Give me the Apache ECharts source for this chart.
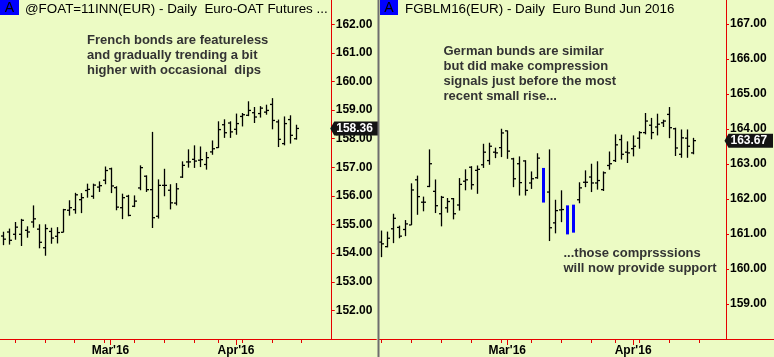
<!DOCTYPE html>
<html><head><meta charset="utf-8">
<script src="https://cdn.jsdelivr.net/npm/echarts@6/dist/echarts.min.js"></script>
<style>html,body{margin:0;padding:0;background:#ecfbc4}#c{width:774px;height:357px}</style>
</head><body><div id="c"></div><script>
// ---------- categories (trading days, incl. empty future slots on the axis) ----------
const foatDates = ["2016-02-04","2016-02-05","2016-02-08","2016-02-09","2016-02-10","2016-02-11","2016-02-12","2016-02-15","2016-02-16","2016-02-17","2016-02-18","2016-02-19","2016-02-22","2016-02-23","2016-02-24","2016-02-25","2016-02-26","2016-02-29",
"2016-03-01","2016-03-02","2016-03-03","2016-03-04","2016-03-07","2016-03-08","2016-03-09","2016-03-10","2016-03-11","2016-03-14","2016-03-15","2016-03-16","2016-03-17","2016-03-18","2016-03-21","2016-03-22","2016-03-23","2016-03-24","2016-03-29","2016-03-30","2016-03-31",
"2016-04-01","2016-04-04","2016-04-05","2016-04-06","2016-04-07","2016-04-08","2016-04-11","2016-04-12","2016-04-13","2016-04-14","2016-04-15","2016-04-18","2016-04-19","2016-04-20","2016-04-21","2016-04-22","2016-04-25","2016-04-26","2016-04-27","2016-04-28","2016-04-29",
"2016-05-02","2016-05-03","2016-05-04"];
const bundDates = ["2016-02-01","2016-02-02","2016-02-03","2016-02-04","2016-02-05","2016-02-08","2016-02-09","2016-02-10","2016-02-11","2016-02-12","2016-02-15","2016-02-16","2016-02-17","2016-02-18","2016-02-19","2016-02-22","2016-02-23","2016-02-24","2016-02-25","2016-02-26","2016-02-29",
"2016-03-01","2016-03-02","2016-03-03","2016-03-04","2016-03-07","2016-03-08","2016-03-09","2016-03-10","2016-03-11","2016-03-14","2016-03-15","2016-03-16","2016-03-17","2016-03-18","2016-03-21","2016-03-22","2016-03-23","2016-03-24","2016-03-29","2016-03-30","2016-03-31",
"2016-04-01","2016-04-04","2016-04-05","2016-04-06","2016-04-07","2016-04-08","2016-04-11","2016-04-12","2016-04-13","2016-04-14","2016-04-15","2016-04-18","2016-04-19","2016-04-20","2016-04-21","2016-04-22","2016-04-25","2016-04-26","2016-04-27","2016-04-28","2016-04-29",
"2016-05-02","2016-05-03","2016-05-04"];

// ---------- tick labels ----------
const monthLabels = {"2016-03-01":"Mar'16","2016-04-01":"Apr'16"};
const lastTickDate = "2016-04-22";

// ---------- Euro-OAT futures (daily OHLC) ----------
const foatOpen  = [154.60,154.74,154.66,154.66,154.80,155.09,154.84,154.19,154.76,154.59,154.73,155.50,155.52,155.87,156.19,155.99,156.31,156.55,156.95,156.29,155.59,155.99,155.64,156.28,156.69,156.22,155.29,156.37,156.20,155.75,156.66,157.19,157.28,157.25,157.10,157.54,157.69,158.49,158.55,158.33,158.78,158.82,158.91,158.88,158.93,159.20,158.59,157.83,158.67,158.00];
const foatHigh  = [154.75,154.86,155.09,155.20,154.94,155.67,155.01,155.01,154.89,154.91,155.55,155.85,156.11,156.10,156.43,156.43,156.51,157.03,156.99,156.34,156.08,156.04,156.02,157.07,156.72,158.24,156.58,156.95,156.41,156.45,157.21,157.63,157.77,157.73,157.54,157.94,158.61,158.68,158.61,158.88,158.90,159.31,159.11,159.14,159.19,159.42,158.67,158.78,158.82,158.49];
const foatLow   = [154.28,154.30,154.47,154.25,154.54,154.89,154.17,153.91,154.33,154.34,154.73,155.31,155.38,155.40,155.94,155.90,156.14,156.41,156.10,155.50,155.19,155.29,155.61,156.20,156.14,154.88,155.21,155.99,155.53,155.67,156.63,156.99,156.98,157.01,156.92,157.44,157.68,158.03,158.03,158.14,158.43,158.79,158.55,158.74,158.84,158.33,157.71,157.77,157.83,157.97];
const foatClose = [154.49,154.45,154.91,155.15,154.74,155.20,154.38,154.86,154.53,154.72,155.52,155.59,156.04,155.94,156.23,156.38,156.36,156.89,156.35,155.61,155.94,155.32,155.82,156.99,156.22,155.24,156.37,156.37,155.76,156.25,157.07,157.19,157.22,157.27,157.34,157.65,158.32,158.21,158.24,158.53,158.84,158.99,158.76,159.07,158.99,158.64,157.98,158.53,158.12,158.36];

// ---------- Euro Bund Jun 2016 (daily OHLC) ----------
const bundOpen  = [160.77,160.64,161.15,161.19,161.13,161.26,162.55,161.91,162.36,162.22,161.58,161.75,162.01,161.83,162.51,162.91,162.82,162.98,163.10,163.34,163.47,163.95,163.15,163.01,163.09,162.46,162.61,162.80,162.20,161.32,161.69,161.80,161.10,161.98,162.48,162.63,162.46,162.27,162.96,163.10,163.70,163.34,163.44,163.74,163.90,164.11,164.06,164.18,164.42,164.01,163.28,163.74,163.32];
const bundHigh  = [161.10,161.07,161.58,161.24,161.40,162.45,162.67,162.07,163.42,162.56,162.09,162.03,162.03,162.60,162.85,162.94,162.96,163.58,163.61,163.47,164.01,163.96,163.18,163.22,163.11,162.79,163.31,162.89,163.42,161.98,162.25,161.82,161.84,162.48,162.82,163.01,163.08,162.79,163.36,163.85,163.84,163.65,163.82,163.94,164.46,164.32,164.44,164.27,164.63,164.04,163.99,163.99,163.75];
const bundLow   = [160.34,160.62,160.74,160.88,160.94,161.26,161.55,161.65,162.34,161.60,161.22,161.61,161.42,161.67,162.25,162.27,162.15,162.89,162.98,163.17,163.20,163.15,162.34,162.10,162.10,162.29,162.58,161.90,160.80,161.02,161.34,160.99,161.04,161.88,162.34,162.20,162.27,162.23,162.84,163.06,163.13,163.03,163.22,163.44,163.85,163.71,163.82,164.06,163.74,163.23,163.18,163.18,163.28];
const bundClose = [160.72,160.88,161.45,160.94,161.29,162.26,162.07,161.91,163.01,161.81,162.05,161.93,161.58,162.42,162.55,162.41,162.85,163.34,163.51,163.32,163.89,163.37,162.58,162.47,162.25,162.58,163.17,162.00,161.18,161.67,161.70,161.10,161.75,162.32,162.48,162.46,162.53,162.75,163.01,163.55,163.28,163.32,163.51,163.90,164.23,163.90,164.14,164.23,164.04,163.46,163.75,163.51,163.67];
// bars flagged as compression signals (painted blue)
const bundCompressionDates = ["2016-03-09","2016-03-15","2016-03-16"];

// ---------- helpers ----------
const RED = '#e60000';
const FONT = '"Liberation Sans", Arial, sans-serif';
function dow(d){ return new Date(d + 'T00:00:00Z').getUTCDay(); }
function weekStartFn(dates){
  return function(idx, val){
    if (val > lastTickDate) return false;
    if (idx === 0) return dow(val) === 1;
    return dow(val) < dow(dates[idx-1]);
  };
}
function monthFn(idx, val){ return monthLabels.hasOwnProperty(val); }

function ohlcRender(blueDates, dates){
  return function(params, api){
    const i = api.value(0);
    const h = api.coord([i, api.value(2)]), l = api.coord([i, api.value(3)]);
    const o = api.coord([i, api.value(1)]), c = api.coord([i, api.value(4)]);
    const x = Math.round(h[0]) + 0.5;
    if (blueDates.indexOf(dates[i]) >= 0) {
      return {type:'line', shape:{x1:x, y1:h[1], x2:x, y2:l[1]}, style:{stroke:'#0000ff', lineWidth:3}};
    }
    return {type:'group', children:[
      {type:'line', shape:{x1:x, y1:h[1], x2:x, y2:l[1]}, style:{stroke:'#000', lineWidth:1.3}},
      {type:'line', shape:{x1:x-2.5, y1:o[1], x2:x, y2:o[1]}, style:{stroke:'#000', lineWidth:1.3}},
      {type:'line', shape:{x1:x, y1:c[1], x2:x+2.5, y2:c[1]}, style:{stroke:'#000', lineWidth:1.3}}
    ]};
  };
}
function tagRender(axisOffset){
  return function(params, api){
    const v = api.value(1);
    const y = api.coord([0, v])[1];
    const cs = params.coordSys;
    const ax = cs.x + cs.width + axisOffset;
    return {type:'group', children:[
      {type:'polygon', shape:{points:[[ax-1.5,y],[ax+2.5,y-7],[ax+47,y-7],[ax+47,y+7],[ax+2.5,y+7]]}, style:{fill:'#141414'}},
      {type:'text', style:{text:v.toFixed(2), x:ax+4.5, y:y+0.5, align:'left', verticalAlign:'middle', fill:'#fff', font:'bold 12px ' + FONT}}
    ]};
  };
}

const L = {left:-1.67, width:378, top:0, bottom:18, offset:-44.6, min:151, max:162.85};
const R = {left:378.33, width:396, top:0, bottom:18, offset:-48, min:158, max:167.69};

function grids(p){ return [
  {left:p.left, width:p.width, top:p.top, bottom:p.bottom, containLabel:false},
  {left:p.left, width:p.width, top:p.top, bottom:p.bottom, containLabel:false}
];}
function xAxes(dates, gi){ return [
  {type:'category', data:dates, gridIndex:gi, boundaryGap:true,
   axisLine:{show:true, lineStyle:{color:RED, width:1}},
   axisTick:{show:true, alignWithLabel:true, interval:weekStartFn(dates), length:4, lineStyle:{color:RED}},
   axisLabel:{show:false}, splitLine:{show:false}},
  {type:'category', data:dates, gridIndex:gi+1, boundaryGap:true,
   axisLine:{show:false},
   axisTick:{show:true, alignWithLabel:true, interval:monthFn, length:6, lineStyle:{color:RED}},
   axisLabel:{show:true, interval:monthFn, formatter:v => monthLabels[v] || '', margin:6,
     color:'#000', fontFamily:FONT, fontWeight:'bold', fontSize:12},
   splitLine:{show:false}}
];}
function yAxes(p, gi){ return [
  {type:'value', gridIndex:gi, position:'right', offset:p.offset, min:p.min, max:p.max, interval:1,
   axisLine:{show:true, lineStyle:{color:RED, width:1}},
   axisTick:{show:true, length:3, lineStyle:{color:RED}},
   axisLabel:{show:true, margin:4, showMinLabel:false, showMaxLabel:false, formatter:v => v.toFixed(2),
     color:'#000', fontFamily:FONT, fontWeight:'bold', fontSize:12},
   splitLine:{show:false}},
  {type:'value', gridIndex:gi+1, min:p.min, max:p.max, show:false}
];}

const foatData = foatOpen.map((o,i) => [i, o, foatHigh[i], foatLow[i], foatClose[i]]);
const bundData = bundOpen.map((o,i) => [i, o, bundHigh[i], bundLow[i], bundClose[i]]);

const chart = echarts.init(document.getElementById('c'), null, {renderer:'canvas'});
chart.setOption({
  backgroundColor:'#ecfbc4',
  animation:false,
  grid:[].concat(grids(L), grids(R)),
  xAxis:[].concat(xAxes(foatDates, 0), xAxes(bundDates, 2)),
  yAxis:[].concat(yAxes(L, 0), yAxes(R, 2)),
  series:[
    {type:'custom', xAxisIndex:0, yAxisIndex:0, data:foatData, encode:{x:0, y:[1,2,3,4]}, renderItem:ohlcRender([], foatDates), z:3},
    {type:'custom', xAxisIndex:2, yAxisIndex:2, data:bundData, encode:{x:0, y:[1,2,3,4]}, renderItem:ohlcRender(bundCompressionDates, bundDates), z:3},
    {type:'custom', xAxisIndex:0, yAxisIndex:0, data:[[foatClose.length-1, foatClose[foatClose.length-1]]], encode:{x:0,y:1}, renderItem:tagRender(L.offset), z:5},
    {type:'custom', xAxisIndex:2, yAxisIndex:2, data:[[bundClose.length-1, bundClose[bundClose.length-1]]], encode:{x:0,y:1}, renderItem:tagRender(R.offset), z:5}
  ],
  graphic:[
    {type:'rect', shape:{x:377.5, y:0, width:2, height:357}, style:{fill:'#6e6e6e'}, z:10},
    {type:'rect', shape:{x:0, y:0, width:19, height:15}, style:{fill:'#0000ff'}, z:10},
    {type:'text', x:9.5, y:8, style:{text:'A', align:'center', verticalAlign:'middle', fill:'#000', font:'14px ' + FONT}, z:11},
    {type:'rect', shape:{x:380, y:0, width:18, height:15}, style:{fill:'#0000ff'}, z:10},
    {type:'text', x:389, y:8, style:{text:'A', align:'center', verticalAlign:'middle', fill:'#000', font:'14px ' + FONT}, z:11},
    {type:'text', x:25, y:9, style:{text:'@FOAT=11INN(EUR) - Daily  Euro-OAT Futures ...', align:'left', verticalAlign:'middle', fill:'#000', font:'13.4px ' + FONT}, z:11},
    {type:'text', x:405, y:9, style:{text:'FGBLM16(EUR) - Daily  Euro Bund Jun 2016', align:'left', verticalAlign:'middle', fill:'#000', font:'13.4px ' + FONT}, z:11},
    {type:'text', x:87, y:33, style:{text:'French bonds are featureless\nand gradually trending a bit\nhigher with occasional  dips', align:'left', verticalAlign:'top', lineHeight:15, fill:'#333', font:'bold 13px ' + FONT}, z:11},
    {type:'text', x:443.5, y:44, style:{text:'German bunds are similar\nbut did make compression\nsignals just before the most\nrecent small rise...', align:'left', verticalAlign:'top', lineHeight:15, fill:'#333', font:'bold 13px ' + FONT}, z:11},
    {type:'text', x:563.5, y:246, style:{text:'...those comprsssions\nwill now provide support', align:'left', verticalAlign:'top', lineHeight:15, fill:'#333', font:'bold 13px ' + FONT}, z:11}
  ]
});
</script></body></html>
